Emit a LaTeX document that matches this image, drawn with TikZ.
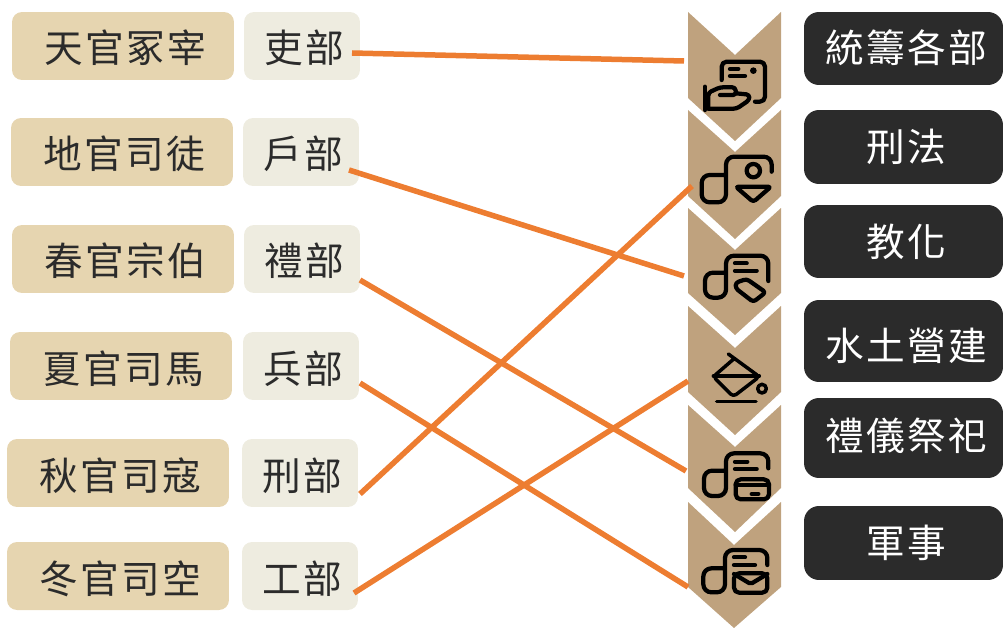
\documentclass[tikz,border=0pt]{standalone}
\usepackage{fontspec}
\newfontfamily\cjk[LetterSpace=6]{Noto Sans CJK TC}
\usetikzlibrary{calc}

\definecolor{guan}{HTML}{E6D5B0}
\definecolor{bu}{HTML}{EEECE0}
\definecolor{ink}{HTML}{2B2B2B}
\definecolor{chev}{HTML}{BFA27E}
\definecolor{orangeline}{HTML}{ED7D31}

\tikzset{
    box/.style={rounded corners=0.2cm, inner sep=0pt, outer sep=0pt, minimum height=1.36cm, text=ink,
        text height=0.78cm, text depth=0.1cm, font=\cjk\fontsize{22}{26}\selectfont,
        execute at begin node={\hspace*{0.1cm}}},
    guanbox/.style={box, fill=guan, minimum width=4.44cm},
    bubox/.style={box, fill=bu, minimum width=2.32cm},
    rolebox/.style={box, fill=ink, text=white, minimum width=3.98cm, rounded corners=0.3cm},
    linkline/.style={orangeline, line width=0.11cm},
    icon/.style={black, line width=0.085cm, line cap=round, line join=round, rounded corners=0.16cm},
}

\begin{document}
\begin{tikzpicture}[x=0.02cm, y=-0.02cm]
        \useasboundingbox (0,0) rectangle (1003,628);

        % Left column.
        \node[guanbox] (G1) at (123,46) {天官冢宰};
        \node[guanbox] (G2) at (122,152) {地官司徒};
        \node[guanbox] (G3) at (123,259) {春官宗伯};
        \node[guanbox] (G4) at (121,366) {夏官司馬};
        \node[guanbox] (G5) at (118,473) {秋官司寇};
        \node[guanbox] (G6) at (118,576) {冬官司空};

        % Ministries.
        \node[bubox] (B1) at (302,46) {吏部};
        \node[bubox] (B2) at (301,152) {戶部};
        \node[bubox] (B3) at (302,259) {禮部};
        \node[bubox] (B4) at (301,366) {兵部};
        \node[bubox] (B5) at (300,473) {刑部};
        \node[bubox] (B6) at (300,576) {工部};

        % Right column.
        \node[rolebox, minimum height=1.46cm, text height=0.68cm] (R1) at (903.5,48.5) {統籌各部};
        \node[rolebox, minimum height=1.48cm, text height=0.70cm] (R2) at (903.5,147) {刑法};
        \node[rolebox, minimum height=1.46cm, text height=0.70cm] (R3) at (903.5,241.5) {教化};
        \node[rolebox, minimum height=1.64cm, text height=0.90cm] (R4) at (903.5,341) {水土營建};
        \node[rolebox, minimum height=1.60cm, text height=0.58cm] (R5) at (903.5,438) {禮儀祭祀};
        \node[rolebox, minimum height=1.48cm, text height=0.66cm] (R6) at (903.5,543) {軍事};

        % Chevrons.
        \fill[chev] (688,12) -- (735,55) -- (781,12) -- (781,98) -- (735,141) -- (688,98) -- cycle;
        \fill[chev] (688,110) -- (735,152) -- (781,110) -- (781,196) -- (735,239) -- (688,196) -- cycle;
        \fill[chev] (688,208) -- (735,250) -- (781,208) -- (781,293) -- (735,335) -- (688,293) -- cycle;
        \fill[chev] (688,306) -- (735,348) -- (781,306) -- (781,392) -- (735,435) -- (688,392) -- cycle;
        \fill[chev] (688,405) -- (735,447) -- (781,405) -- (781,488) -- (735,532) -- (688,488) -- cycle;
        \fill[chev] (688,502) -- (734,545) -- (781,502) -- (781,587) -- (734,628) -- (688,587) -- cycle;

        % Icons, traced in a 3x frame.
        \begin{scope}[shift={(670,0)}, x=0.00667cm, y=-0.00667cm]
            %hand and card
            \draw[icon, rounded corners=0.1cm] (155,240) -- (155,185) -- (285,185) -- (285,305) -- (255,305);
            \draw[icon] (180,207) -- (205,207);
            \draw[icon] (180,228) -- (225,228);
            \fill (250,212) circle (10);
            \draw[icon] (105,260) -- (105,330);
            \draw[icon, rounded corners=0.06cm] (115,326) -- (115,278) -- (150,262) -- (196,262) -- (198,285) -- (150,285);
            \draw[icon, rounded corners=0.06cm] (198,280) -- (238,284) -- (238,300) -- (200,326) -- (115,326);
            %person
            \draw[icon] (165,525) -- (95,525) -- (95,607) -- (168,607) -- (168,470) -- (305,470) -- (305,515);
            \draw[icon, rounded corners=0pt] (250,512) circle (20);
            \draw[icon, rounded corners=0.06cm] (197,560) -- (303,560) -- (250,606) -- cycle;
        \end{scope}
        \begin{scope}[shift={(670,200)}, x=0.00667cm, y=-0.00667cm]
            %tag
            \draw[icon] (168,218) -- (105,218) -- (105,293) -- (168,293) -- (168,167) -- (295,167) -- (295,243);
            \draw[icon] (195,190) -- (230,190);
            \draw[icon] (195,212) -- (260,212);
            \draw[icon, rounded corners=0.06cm] (197,248) -- (230,237) -- (287,277) -- (250,306) -- (197,265) -- cycle;
            %paint
            \draw[icon, rounded corners=2pt, line width=0.07cm] (175,462) -- (268,530) -- (190,590) -- (130,530) -- (190,478);
            \draw[icon, line width=0.07cm] (130,528) -- (268,528);
            \draw[icon, rounded corners=0pt, line width=0.07cm] (276,566) circle (13);
            \draw[icon, line width=0.07cm] (140,604) -- (258,604);
        \end{scope}
        \begin{scope}[shift={(670,400)}, x=0.00667cm, y=-0.00667cm]
            %card
            \draw[icon] (165,212) -- (102,212) -- (102,288) -- (168,288) -- (168,160) -- (295,160) -- (295,205);
            \draw[icon] (195,185) -- (232,185);
            \draw[icon] (195,207) -- (260,207);
            \draw[icon, rounded corners=0.1cm] (197,238) rectangle (297,298);
            \draw[icon] (197,254) -- (297,254);
            \draw[icon] (245,282) -- (265,282);
            %mail
            \draw[icon] (165,505) -- (100,505) -- (100,577) -- (165,577) -- (165,450) -- (292,450) -- (292,495);
            \draw[icon] (192,472) -- (225,472);
            \draw[icon] (192,495) -- (255,495);
            \draw[icon, rounded corners=0.1cm] (192,520) rectangle (292,578);
            \draw[icon, rounded corners=1pt] (192,522) -- (242,552) -- (292,522);
        \end{scope}

        % Connector ends.
        \coordinate (S1) at (352,53);
        \coordinate (E1) at (684,61);
        \coordinate (S2) at (349,170);
        \coordinate (E2) at (684,276);
        \coordinate (S3) at (360,280);
        \coordinate (E3) at (686,471);
        \coordinate (S4) at (360,383);
        \coordinate (E4) at (688,587);
        \coordinate (S5) at (360,494);
        \coordinate (E5) at (692,186);
        \coordinate (S6) at (354,593);
        \coordinate (E6) at (688,381);

        % Connectors.
        \draw[linkline] (S1) -- (E1);
        \draw[linkline] (S2) -- (E2);
        \draw[linkline] (S3) -- (E3);
        \draw[linkline] (S4) -- (E4);
        \draw[linkline] (S5) -- (E5);
        \draw[linkline] (S6) -- (E6);
\end{tikzpicture}
\end{document}
